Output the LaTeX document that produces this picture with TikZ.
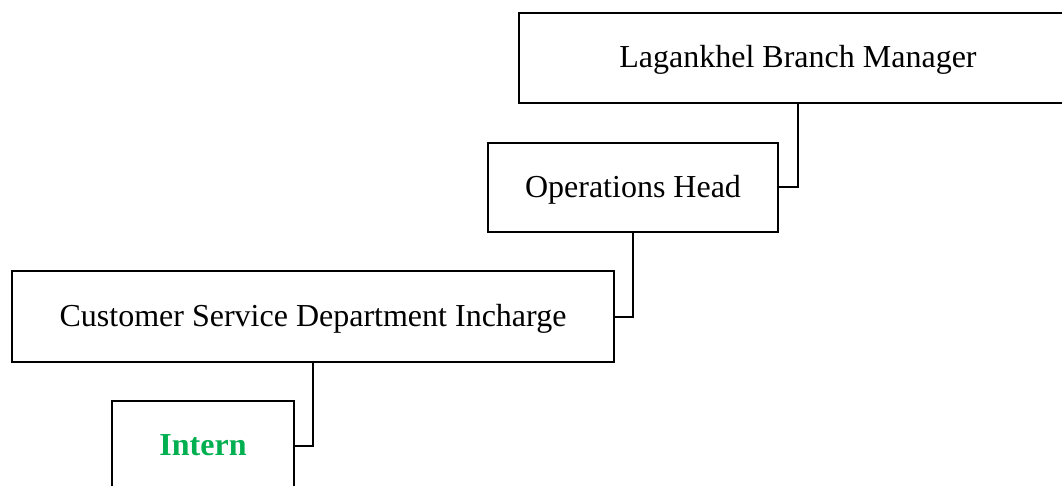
\documentclass[tikz,border=0pt]{standalone}
\usepackage{fontspec}
\setmainfont{Liberation Serif}
\definecolor{interngreen}{RGB}{0,176,80}
\begin{document}
\begin{tikzpicture}[x=1pt,y=-1pt,
  orgbox/.style={draw=black,line width=2pt,rectangle,inner sep=0pt,text height=25pt,text depth=5pt,font=\fontsize{32}{38}\selectfont},
  link/.style={draw=black,line width=2pt}]
\useasboundingbox (0,0) rectangle (1062,486);
\node[orgbox,minimum width=558pt,minimum height=90pt] (lag) at (798,58) {Lagankhel Branch Manager};
\node[orgbox,minimum width=290pt,minimum height=89pt] (ops) at (633,187.5) {Operations Head};
\node[orgbox,minimum width=602pt,minimum height=91pt] (cs) at (313,316.5) {Customer Service Department Incharge};
\node[orgbox,minimum width=182pt,minimum height=89pt,text=interngreen,font=\fontsize{32}{38}\selectfont\bfseries] (intern) at (203,445.5) {Intern};
\draw[link] (lag.south) |- (ops.east);
\draw[link] (ops.south) |- (cs.east);
\draw[link] (cs.south) |- (intern.east);
\end{tikzpicture}
\end{document}
